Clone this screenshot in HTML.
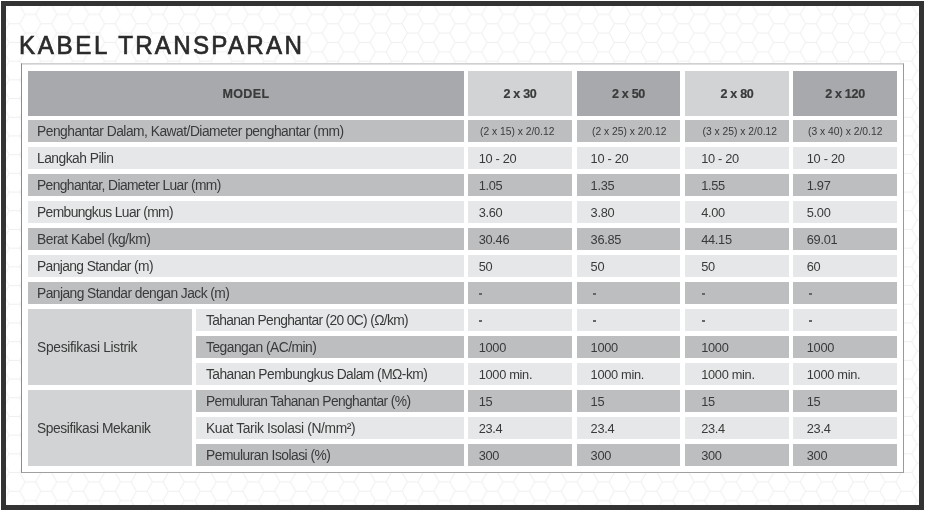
<!DOCTYPE html>
<html><head><meta charset="utf-8"><style>
*{margin:0;padding:0;box-sizing:border-box}
html,body{width:925px;height:511px;background:#fff;overflow:hidden}
body{position:relative;-webkit-font-smoothing:antialiased;font-family:"Liberation Sans",sans-serif;color:#3a3a3a}
.frame{position:absolute;left:1px;top:1px;width:923px;height:509px;border:5px solid #333;background:#fff;overflow:hidden}
.bg{position:absolute;left:0;top:0}
.wrap{position:absolute;left:0;top:0;width:925px;height:511px;will-change:transform}
.title{position:absolute;left:18.6px;top:30px;font-size:26px;letter-spacing:2.85px;transform:scaleX(0.93);transform-origin:0 0;color:#2b2b2b;white-space:nowrap;line-height:30px;word-spacing:-0.6px;-webkit-text-stroke:0.7px #2b2b2b}
.box{position:absolute;left:21px;top:63px;width:883px;height:410px;background:#fff;border:1px solid #8c8c8c;border-top-color:#d0d0d0;box-shadow:inset 0 1px 0 #e0e0e0;border-right-color:#9a9a9a;border-bottom-color:#a0a0a0}
.c{position:absolute;font-size:12.8px;white-space:nowrap;overflow:hidden}
.c.h{font-weight:bold;font-size:12.5px;letter-spacing:-0.3px;-webkit-text-stroke:0.2px #3a3a3a}
.c.ls{letter-spacing:0.4px;-webkit-text-stroke:0.2px #3a3a3a}
.c.ctr{text-align:center;padding-left:0}
.c.sm{font-size:10.3px}
.c.v{letter-spacing:-0.3px}
.c i.d{position:absolute;top:10px;width:3px;height:2px;background:#666}
.c.v span{position:relative;top:0.5px}
.c.sm span{position:relative;top:1px}
.c.lb{font-size:13.8px;letter-spacing:-0.5px}
.c.lb span{position:relative;top:0.5px}
</style></head><body>
<div class="frame"><svg class="bg" width="913" height="499"><defs><pattern id="hx" patternUnits="userSpaceOnUse" width="31.86" height="18.7" x="13.68" y="8.40"><path d="M0.00,9.35 L5.31,0.00 L15.93,0.00 L21.24,9.35 L15.93,18.70 L5.31,18.70 Z M15.93,0.00 L21.24,-9.35 L31.86,-9.35 L37.17,0.00 L31.86,9.35 L21.24,9.35 Z M15.93,18.70 L21.24,9.35 L31.86,9.35 L37.17,18.70 L31.86,28.05 L21.24,28.05 Z M-15.93,0.00 L-10.62,-9.35 L-0.00,-9.35 L5.31,0.00 L-0.00,9.35 L-10.62,9.35 Z M-15.93,18.70 L-10.62,9.35 L-0.00,9.35 L5.31,18.70 L-0.00,28.05 L-10.62,28.05 Z M31.86,9.35 L37.17,0.00 L47.79,0.00 L53.10,9.35 L47.79,18.70 L37.17,18.70 Z" fill="none" stroke="#efefef" stroke-width="1"/></pattern></defs><rect width="913" height="499" fill="url(#hx)"/></svg></div>
<div class="wrap">
<div class="title">KABEL <span style="letter-spacing:2.42px">TRANSPARAN</span></div>
<div class="box"></div>
<div class="c h ctr ls" style="left:28px;top:71px;width:436px;height:45px;line-height:47px;background:#a7a9ac;padding-left:0px;"><span>MODEL</span></div><div class="c h ctr" style="left:468px;top:71px;width:104px;height:45px;line-height:47px;background:#d1d3d4;padding-left:0px;"><span>2 x 30</span></div><div class="c h ctr" style="left:577px;top:71px;width:103px;height:45px;line-height:47px;background:#a7a9ac;padding-left:0px;"><span>2 x 50</span></div><div class="c h ctr" style="left:685px;top:71px;width:104px;height:45px;line-height:47px;background:#d1d3d4;padding-left:0px;"><span>2 x 80</span></div><div class="c h ctr" style="left:793px;top:71px;width:104px;height:45px;line-height:47px;background:#a7a9ac;padding-left:0px;"><span>2 x 120</span></div><div class="c lb" style="left:28px;top:120px;width:436px;height:22px;line-height:22px;background:#bcbec0;padding-left:9px;letter-spacing:-0.5px;"><span>Penghantar Dalam, Kawat/Diameter penghantar (mm)</span></div><div class="c sm" style="left:468px;top:120px;width:104px;height:22px;line-height:22px;background:#bcbec0;padding-left:12px;"><span>(2 x 15) x 2/0.12</span></div><div class="c sm" style="left:577px;top:120px;width:103px;height:22px;line-height:22px;background:#bcbec0;padding-left:15px;"><span>(2 x 25) x 2/0.12</span></div><div class="c sm" style="left:685px;top:120px;width:104px;height:22px;line-height:22px;background:#bcbec0;padding-left:17.6px;"><span>(3 x 25) x 2/0.12</span></div><div class="c sm" style="left:793px;top:120px;width:104px;height:22px;line-height:22px;background:#bcbec0;padding-left:15px;"><span>(3 x 40) x 2/0.12</span></div><div class="c lb" style="left:28px;top:147px;width:436px;height:22px;line-height:22px;background:#e6e7e8;padding-left:9px;letter-spacing:-0.5px;"><span>Langkah Pilin</span></div><div class="c v" style="left:468px;top:147px;width:104px;height:22px;line-height:22px;background:#e6e7e8;padding-left:10.7px;"><span>10 - 20</span></div><div class="c v" style="left:577px;top:147px;width:103px;height:22px;line-height:22px;background:#e6e7e8;padding-left:13.6px;"><span>10 - 20</span></div><div class="c v" style="left:685px;top:147px;width:104px;height:22px;line-height:22px;background:#e6e7e8;padding-left:16.2px;"><span>10 - 20</span></div><div class="c v" style="left:793px;top:147px;width:104px;height:22px;line-height:22px;background:#e6e7e8;padding-left:13.8px;"><span>10 - 20</span></div><div class="c lb" style="left:28px;top:174px;width:436px;height:22px;line-height:22px;background:#bcbec0;padding-left:9px;letter-spacing:-0.6px;"><span>Penghantar, Diameter Luar (mm)</span></div><div class="c v" style="left:468px;top:174px;width:104px;height:22px;line-height:22px;background:#bcbec0;padding-left:10.7px;"><span>1.05</span></div><div class="c v" style="left:577px;top:174px;width:103px;height:22px;line-height:22px;background:#bcbec0;padding-left:13.6px;"><span>1.35</span></div><div class="c v" style="left:685px;top:174px;width:104px;height:22px;line-height:22px;background:#bcbec0;padding-left:16.2px;"><span>1.55</span></div><div class="c v" style="left:793px;top:174px;width:104px;height:22px;line-height:22px;background:#bcbec0;padding-left:13.8px;"><span>1.97</span></div><div class="c lb" style="left:28px;top:201px;width:436px;height:22px;line-height:22px;background:#e6e7e8;padding-left:9px;letter-spacing:-0.6px;"><span>Pembungkus Luar (mm)</span></div><div class="c v" style="left:468px;top:201px;width:104px;height:22px;line-height:22px;background:#e6e7e8;padding-left:10.7px;"><span>3.60</span></div><div class="c v" style="left:577px;top:201px;width:103px;height:22px;line-height:22px;background:#e6e7e8;padding-left:13.6px;"><span>3.80</span></div><div class="c v" style="left:685px;top:201px;width:104px;height:22px;line-height:22px;background:#e6e7e8;padding-left:16.2px;"><span>4.00</span></div><div class="c v" style="left:793px;top:201px;width:104px;height:22px;line-height:22px;background:#e6e7e8;padding-left:13.8px;"><span>5.00</span></div><div class="c lb" style="left:28px;top:228px;width:436px;height:22px;line-height:22px;background:#bcbec0;padding-left:9px;letter-spacing:-0.45px;"><span>Berat Kabel (kg/km)</span></div><div class="c v" style="left:468px;top:228px;width:104px;height:22px;line-height:22px;background:#bcbec0;padding-left:10.7px;"><span>30.46</span></div><div class="c v" style="left:577px;top:228px;width:103px;height:22px;line-height:22px;background:#bcbec0;padding-left:13.6px;"><span>36.85</span></div><div class="c v" style="left:685px;top:228px;width:104px;height:22px;line-height:22px;background:#bcbec0;padding-left:16.2px;"><span>44.15</span></div><div class="c v" style="left:793px;top:228px;width:104px;height:22px;line-height:22px;background:#bcbec0;padding-left:13.8px;"><span>69.01</span></div><div class="c lb" style="left:28px;top:255px;width:436px;height:22px;line-height:22px;background:#e6e7e8;padding-left:9px;letter-spacing:-0.6px;"><span>Panjang Standar (m)</span></div><div class="c v" style="left:468px;top:255px;width:104px;height:22px;line-height:22px;background:#e6e7e8;padding-left:10.7px;"><span>50</span></div><div class="c v" style="left:577px;top:255px;width:103px;height:22px;line-height:22px;background:#e6e7e8;padding-left:13.6px;"><span>50</span></div><div class="c v" style="left:685px;top:255px;width:104px;height:22px;line-height:22px;background:#e6e7e8;padding-left:16.2px;"><span>50</span></div><div class="c v" style="left:793px;top:255px;width:104px;height:22px;line-height:22px;background:#e6e7e8;padding-left:13.8px;"><span>60</span></div><div class="c lb" style="left:28px;top:282px;width:436px;height:22px;line-height:22px;background:#bcbec0;padding-left:9px;letter-spacing:-0.55px;"><span>Panjang Standar dengan Jack (m)</span></div><div class="c v" style="left:468px;top:282px;width:104px;height:22px;line-height:22px;background:#bcbec0;padding-left:0px;"><span><i class="d" style="left:11.4px"></i></span></div><div class="c v" style="left:577px;top:282px;width:103px;height:22px;line-height:22px;background:#bcbec0;padding-left:0px;"><span><i class="d" style="left:15.7px"></i></span></div><div class="c v" style="left:685px;top:282px;width:104px;height:22px;line-height:22px;background:#bcbec0;padding-left:0px;"><span><i class="d" style="left:17.4px"></i></span></div><div class="c v" style="left:793px;top:282px;width:104px;height:22px;line-height:22px;background:#bcbec0;padding-left:0px;"><span><i class="d" style="left:16.4px"></i></span></div><div class="c lb" style="left:196px;top:309px;width:268px;height:22px;line-height:22px;background:#e6e7e8;padding-left:10px;letter-spacing:-0.65px;"><span>Tahanan Penghantar (20 0C) (&Omega;/km)</span></div><div class="c v" style="left:468px;top:309px;width:104px;height:22px;line-height:22px;background:#e6e7e8;padding-left:0px;"><span><i class="d" style="left:11.4px"></i></span></div><div class="c v" style="left:577px;top:309px;width:103px;height:22px;line-height:22px;background:#e6e7e8;padding-left:0px;"><span><i class="d" style="left:15.7px"></i></span></div><div class="c v" style="left:685px;top:309px;width:104px;height:22px;line-height:22px;background:#e6e7e8;padding-left:0px;"><span><i class="d" style="left:17.4px"></i></span></div><div class="c v" style="left:793px;top:309px;width:104px;height:22px;line-height:22px;background:#e6e7e8;padding-left:0px;"><span><i class="d" style="left:16.4px"></i></span></div><div class="c lb" style="left:196px;top:336px;width:268px;height:22px;line-height:22px;background:#bcbec0;padding-left:10px;letter-spacing:-0.5px;"><span>Tegangan (AC/min)</span></div><div class="c v" style="left:468px;top:336px;width:104px;height:22px;line-height:22px;background:#bcbec0;padding-left:10.7px;"><span>1000</span></div><div class="c v" style="left:577px;top:336px;width:103px;height:22px;line-height:22px;background:#bcbec0;padding-left:13.6px;"><span>1000</span></div><div class="c v" style="left:685px;top:336px;width:104px;height:22px;line-height:22px;background:#bcbec0;padding-left:16.2px;"><span>1000</span></div><div class="c v" style="left:793px;top:336px;width:104px;height:22px;line-height:22px;background:#bcbec0;padding-left:13.8px;"><span>1000</span></div><div class="c lb" style="left:196px;top:363px;width:268px;height:22px;line-height:22px;background:#e6e7e8;padding-left:10px;letter-spacing:-0.55px;"><span>Tahanan Pembungkus Dalam (M&Omega;-km)</span></div><div class="c v" style="left:468px;top:363px;width:104px;height:22px;line-height:22px;background:#e6e7e8;padding-left:10.7px;"><span>1000 min.</span></div><div class="c v" style="left:577px;top:363px;width:103px;height:22px;line-height:22px;background:#e6e7e8;padding-left:13.6px;"><span>1000 min.</span></div><div class="c v" style="left:685px;top:363px;width:104px;height:22px;line-height:22px;background:#e6e7e8;padding-left:16.2px;"><span>1000 min.</span></div><div class="c v" style="left:793px;top:363px;width:104px;height:22px;line-height:22px;background:#e6e7e8;padding-left:13.8px;"><span>1000 min.</span></div><div class="c lb" style="left:196px;top:390px;width:268px;height:22px;line-height:22px;background:#bcbec0;padding-left:10px;letter-spacing:-0.6px;"><span>Pemuluran Tahanan Penghantar (%)</span></div><div class="c v" style="left:468px;top:390px;width:104px;height:22px;line-height:22px;background:#bcbec0;padding-left:10.7px;"><span>15</span></div><div class="c v" style="left:577px;top:390px;width:103px;height:22px;line-height:22px;background:#bcbec0;padding-left:13.6px;"><span>15</span></div><div class="c v" style="left:685px;top:390px;width:104px;height:22px;line-height:22px;background:#bcbec0;padding-left:16.2px;"><span>15</span></div><div class="c v" style="left:793px;top:390px;width:104px;height:22px;line-height:22px;background:#bcbec0;padding-left:13.8px;"><span>15</span></div><div class="c lb" style="left:196px;top:417px;width:268px;height:22px;line-height:22px;background:#e6e7e8;padding-left:10px;letter-spacing:-0.35px;"><span>Kuat Tarik Isolasi (N/mm&sup2;)</span></div><div class="c v" style="left:468px;top:417px;width:104px;height:22px;line-height:22px;background:#e6e7e8;padding-left:10.7px;"><span>23.4</span></div><div class="c v" style="left:577px;top:417px;width:103px;height:22px;line-height:22px;background:#e6e7e8;padding-left:13.6px;"><span>23.4</span></div><div class="c v" style="left:685px;top:417px;width:104px;height:22px;line-height:22px;background:#e6e7e8;padding-left:16.2px;"><span>23.4</span></div><div class="c v" style="left:793px;top:417px;width:104px;height:22px;line-height:22px;background:#e6e7e8;padding-left:13.8px;"><span>23.4</span></div><div class="c lb" style="left:196px;top:444px;width:268px;height:22px;line-height:22px;background:#bcbec0;padding-left:10px;letter-spacing:-0.5px;"><span>Pemuluran Isolasi (%)</span></div><div class="c v" style="left:468px;top:444px;width:104px;height:22px;line-height:22px;background:#bcbec0;padding-left:10.7px;"><span>300</span></div><div class="c v" style="left:577px;top:444px;width:103px;height:22px;line-height:22px;background:#bcbec0;padding-left:13.6px;"><span>300</span></div><div class="c v" style="left:685px;top:444px;width:104px;height:22px;line-height:22px;background:#bcbec0;padding-left:16.2px;"><span>300</span></div><div class="c v" style="left:793px;top:444px;width:104px;height:22px;line-height:22px;background:#bcbec0;padding-left:13.8px;"><span>300</span></div><div class="c lb" style="left:28px;top:309px;width:164px;height:76px;line-height:76px;background:#d1d3d4;padding-left:9px;letter-spacing:-0.3px;"><span>Spesifikasi Listrik</span></div><div class="c lb" style="left:28px;top:390px;width:164px;height:76px;line-height:76px;background:#d1d3d4;padding-left:9px;letter-spacing:-0.4px;"><span>Spesifikasi Mekanik</span></div>
</div>
</body></html>
